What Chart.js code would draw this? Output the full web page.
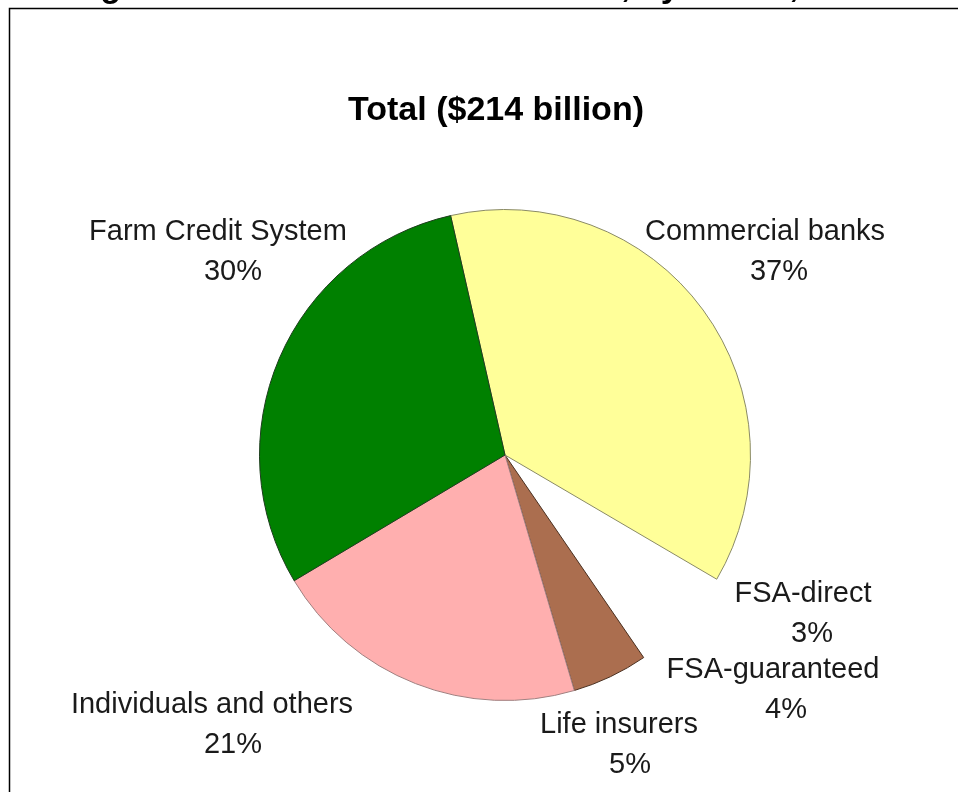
<!DOCTYPE html>
<html>
<head>
<meta charset="utf-8">
<script src="https://cdn.jsdelivr.net/npm/chart.js@4"></script>
<style>
  html, body { margin: 0; padding: 0; background: #fff; }
  #wrap { width: 958px; height: 792px; position: relative; }
</style>
</head>
<body>
<div id="wrap"><canvas id="chart" width="958" height="792"></canvas></div>
<script>
// lenders, clockwise from the top
var lenders = ['Commercial banks', 'FSA-direct', 'FSA-guaranteed', 'Life insurers', 'Individuals and others', 'Farm Credit System'];
var shares = [37, 3, 4, 5, 21, 30];
var sliceColors = ['#ffff99', 'rgba(0,0,0,0)', 'rgba(0,0,0,0)', '#ab6e4f', '#ffafaf', '#008000'];
var edgeColors = ['#8a8a66', 'rgba(0,0,0,0)', 'rgba(0,0,0,0)', '#4a3020', '#a08080', '#1d3d1d'];
var edgeWidths = [1, 0, 0, 1, 1, 1];
var chartTitle = 'Total ($214 billion)';
var pageTitle = 'Figure 1. Total farm business debt, by lender, 2008';

// label spots relative to the pie centre: [dx, dy first line, dx of the % line]
var labelSpots = [
  [260, -215, 274],
  [298, 147, 307],
  [268, 223, 281],
  [114, 278, 125],
  [-293, 258, -272],
  [-287, -215, -272]
];

var labelFont = '29px "Liberation Sans", Arial, sans-serif';

var extras = {
  id: 'extras',
  afterDraw: function(chart){
    var ctx = chart.ctx,
      arc = chart.getDatasetMeta(0).data[0],
      cx = arc.x, cy = arc.y,
      total = shares.reduce(function(a, b){ return a + b; }, 0);
    ctx.save();
    // frame around the figure
    ctx.strokeStyle = '#000';
    ctx.lineWidth = 1.5;
    ctx.beginPath();
    ctx.moveTo(9.5, 800);
    ctx.lineTo(9.5, 8.5);
    ctx.lineTo(970, 8.5);
    ctx.stroke();
    // page heading, cut off at the top
    ctx.fillStyle = '#000';
    ctx.font = 'bold 34px "Liberation Sans", Arial, sans-serif';
    ctx.textAlign = 'left';
    ctx.textBaseline = 'alphabetic';
    ctx.fillText(pageTitle, 70, -3);
    // chart heading
    ctx.textAlign = 'center';
    ctx.fillText(chartTitle, 496, 120);
    // slice labels
    ctx.font = labelFont;
    ctx.fillStyle = '#1a1a1a';
    for (var i = 0; i < lenders.length; i++) {
      var s = labelSpots[i];
      ctx.fillText(lenders[i], cx + s[0], cy + s[1]);
      ctx.fillText(Math.round(shares[i] / total * 100) + '%', cx + s[2], cy + s[1] + 40);
    }
    ctx.restore();
  }
};

var c = document.getElementById('chart');
new Chart(c.getContext('2d'), {
  type: 'pie',
  data: {
    labels: lenders,
    datasets: [{
      data: shares,
      backgroundColor: sliceColors,
      borderColor: edgeColors,
      borderWidth: edgeWidths
    }]
  },
  options: {
    responsive: false,
    animation: false,
    devicePixelRatio: 1,
    rotation: -12.8,
    layout: { padding: { left: 259, right: 207, top: 209, bottom: 91 } },
    plugins: {
      legend: { display: false },
      tooltip: { enabled: false },
      title: { display: false }
    }
  },
  plugins: [extras]
});
</script>
</body>
</html>
